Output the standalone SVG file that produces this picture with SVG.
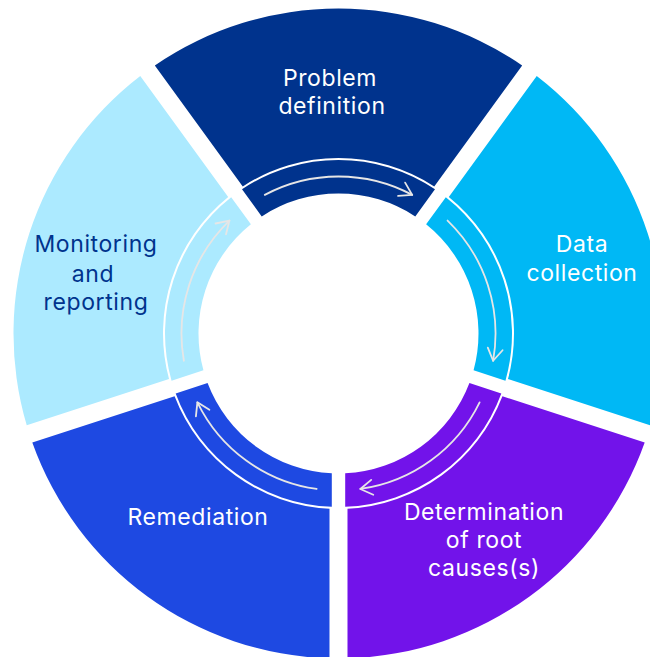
<svg xmlns="http://www.w3.org/2000/svg" xmlns:xlink="http://www.w3.org/1999/xlink" width="650" height="657" viewBox="0 0 650 657">
  <style>
    .lbl { font-family: Inter, "Open Sans", "Liberation Sans", Arial, sans-serif; font-size: 23px; font-weight: 400; letter-spacing: 0.6px; text-anchor: middle; }
    .w { fill: #FFFFFF; }
    .d { fill: #00338D; }
    .arc { fill: none; stroke: #E6E6E6; stroke-width: 1.8; stroke-linecap: round; }
  </style>
  <defs>
    <path id="outer" d="M 268.121 -183.674 A 325 325 0 0 1 268.121 183.674 L 147.085 95.741 A 175.5 175.5 0 0 0 147.085 -95.741 Z"/>
    <path id="band" d="M 144.199 -96.485 A 173.5 173.5 0 0 1 144.199 96.485 L 117.072 76.776 A 140 140 0 0 0 117.072 -76.776 Z"/>
    <marker id="head" markerUnits="userSpaceOnUse" markerWidth="30" markerHeight="30" viewBox="-15 -15 30 30" refX="0" refY="0" orient="auto" overflow="visible">
      <path d="M -12 -7.5 L 0 0 L -12 7.5" fill="none" stroke="#E6E6E6" stroke-width="1.8" stroke-linecap="round" stroke-linejoin="round"/>
    </marker>
    <path id="flow" d="M 138.623 -73.707 A 157 157 0 0 1 138.623 73.707"/>
  </defs>
  <rect x="0" y="0" width="650" height="657" fill="#FFFFFF"/>

  <g id="problem-definition">
    <g transform="translate(338.5 333.5) rotate(270)" fill="#00338D">
      <use xlink:href="#outer"/>
      <use xlink:href="#band"/>
    </g>
    <text class="lbl w" x="330" y="86">Problem</text>
    <text class="lbl w" x="332" y="114">definition</text>
  </g>

  <g id="data-collection">
    <g transform="translate(338.5 333.5) rotate(342)" fill="#00B8F5">
      <use xlink:href="#outer"/>
      <use xlink:href="#band"/>
    </g>
    <text class="lbl w" x="582" y="252">Data</text>
    <text class="lbl w" x="582" y="281">collection</text>
  </g>

  <g id="determination-of-root-causes">
    <g transform="translate(338.5 333.5) rotate(54)" fill="#7213EA">
      <use xlink:href="#outer"/>
      <use xlink:href="#band"/>
    </g>
    <text class="lbl w" x="484" y="519.5">Determination</text>
    <text class="lbl w" x="484" y="548">of root</text>
    <text class="lbl w" x="484" y="576">causes(s)</text>
  </g>

  <g id="remediation">
    <g transform="translate(338.5 333.5) rotate(126)" fill="#1E49E2">
      <use xlink:href="#outer"/>
      <use xlink:href="#band"/>
    </g>
    <text class="lbl w" x="198" y="525">Remediation</text>
  </g>

  <g id="monitoring-and-reporting">
    <g transform="translate(338.5 333.5) rotate(198)" fill="#ACEAFF">
      <use xlink:href="#outer"/>
      <use xlink:href="#band"/>
    </g>
    <text class="lbl d" x="96" y="252">Monitoring</text>
    <text class="lbl d" x="93" y="281.5">and</text>
    <text class="lbl d" x="96" y="310">reporting</text>
  </g>

  <g id="connectors">
    <use xlink:href="#flow" class="arc" marker-end="url(#head)" transform="translate(338.5 333.5) rotate(270)"/>
    <use xlink:href="#flow" class="arc" marker-end="url(#head)" transform="translate(338.5 333.5) rotate(342)"/>
    <use xlink:href="#flow" class="arc" marker-end="url(#head)" transform="translate(338.5 333.5) rotate(54)"/>
    <use xlink:href="#flow" class="arc" marker-end="url(#head)" transform="translate(338.5 333.5) rotate(126)"/>
    <use xlink:href="#flow" class="arc" marker-end="url(#head)" transform="translate(338.5 333.5) rotate(198)"/>
  </g>
</svg>
